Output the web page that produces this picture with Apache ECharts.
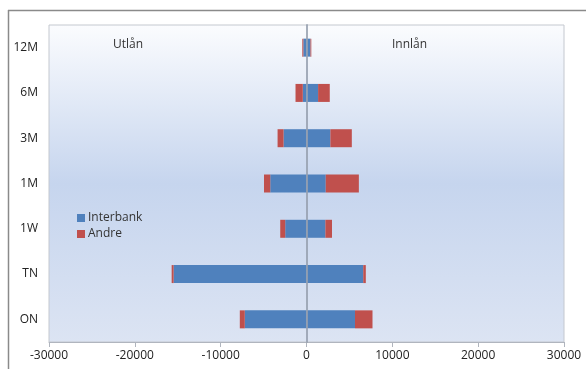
<!DOCTYPE html>
<html>
<head>
<meta charset="utf-8">
<script src="https://cdn.jsdelivr.net/npm/echarts@6/dist/echarts.min.js"></script>
<style>
  html, body { margin: 0; padding: 0; background: #ffffff; }
  #chart { width: 586px; height: 369px; }
</style>
</head>
<body>
<div id="chart"></div>
<script>
// Maturity buckets, bottom to top
const categories = ['ON', 'TN', '1W', '1M', '3M', '6M', '12M'];

// Utlån (lending) shown as negative values, Innlån (borrowing) as positive
const interbankUtlan = [-7190, -15480, -2480, -4220, -2670, -430, -370];
const andreUtlan     = [-580, -230, -580, -730, -700, -850, -120];
const interbankInnlan = [5650, 6610, 2200, 2240, 2780, 1350, 460];
const andreInnlan     = [2040, 300, 770, 3860, 2500, 1360, 100];

const xTicks = { min: -30000, max: 30000, interval: 10000 };

const BLUE = '#4f81bd';
const RED = '#c0504d';
const FONT = '"Open Sans", "Liberation Sans", sans-serif';

function barSeries(name, data, color) {
  return {
    name: name,
    type: 'bar',
    stack: 'total',
    barWidth: 18,
    data: data,
    itemStyle: { color: color },
    emphasis: { disabled: true }
  };
}

const chart = echarts.init(document.getElementById('chart'), null, { renderer: 'canvas' });

chart.setOption({
  animation: false,
  backgroundColor: '#ffffff',
  textStyle: { fontFamily: FONT },
  grid: {
    left: 49, top: 25, right: 22, bottom: 27,
    show: true,
    borderColor: '#c4c8cf',
    borderWidth: 1,
    backgroundColor: {
      type: 'linear', x: 0, y: 0, x2: 0, y2: 1,
      colorStops: [
        { offset: 0, color: '#fbfcfe' },
        { offset: 0.5, color: '#c6d5ee' },
        { offset: 1, color: '#dce4f3' }
      ]
    }
  },
  legend: {
    orient: 'vertical',
    left: 72, top: 207,
    itemWidth: 8, itemHeight: 8, itemGap: 4,
    icon: 'rect',
    data: ['Interbank', 'Andre'],
    textStyle: { fontSize: 12, color: '#333333', fontFamily: FONT, padding: [0, 0, 0, -2] }
  },
  xAxis: {
    type: 'value',
    min: xTicks.min, max: xTicks.max, interval: xTicks.interval,
    axisLine: { show: true, lineStyle: { color: '#b0b5be', width: 1 } },
    axisTick: { show: true, length: 5, lineStyle: { color: '#b0b5be' } },
    splitLine: { show: false },
    axisLabel: {
      color: '#222222', fontSize: 12, margin: 8, fontFamily: FONT,
      formatter: v => String(v)
    }
  },
  yAxis: {
    type: 'category',
    data: categories,
    z: 5,
    axisLine: { show: true, onZero: true, lineStyle: { color: 'rgba(150,160,175,0.85)', width: 2 } },
    axisTick: { show: false },
    axisLabel: {
      color: '#222222', fontSize: 12, fontFamily: FONT,
      margin: 11
    },
    splitLine: { show: false }
  },
  graphic: [
    { type: 'line', shape: { x1: 8, y1: 10.5, x2: 586, y2: 10.5 }, style: { stroke: '#8a8a8a', lineWidth: 1.5 } },
    { type: 'line', shape: { x1: 8.5, y1: 10, x2: 8.5, y2: 369 }, style: { stroke: '#8a8a8a', lineWidth: 1.5 } },
    { type: 'text', left: 113, top: 39, style: { text: 'Utlån', fontSize: 12, fill: '#333333', fontFamily: FONT } },
    { type: 'text', left: 392, top: 39, style: { text: 'Innlån', fontSize: 12, fill: '#333333', fontFamily: FONT } }
  ],
  series: [
    barSeries('Interbank', interbankUtlan, BLUE),
    barSeries('Interbank', interbankInnlan, BLUE),
    barSeries('Andre', andreUtlan, RED),
    barSeries('Andre', andreInnlan, RED)
  ]
});
</script>
</body>
</html>
